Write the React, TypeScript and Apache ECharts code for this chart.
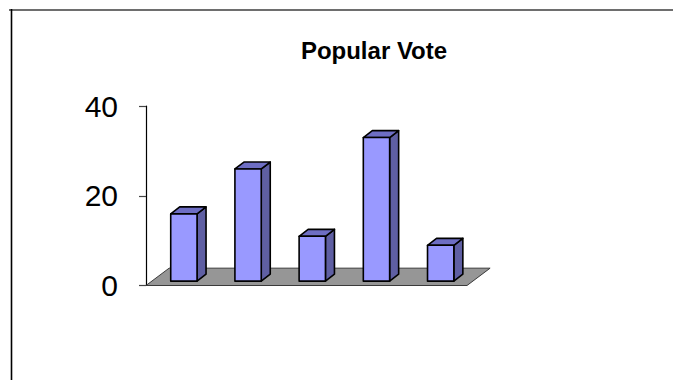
import React, { useEffect, useRef } from "react";
import * as echarts from "echarts";

// Popular vote share per candidate (percent)
const categories = ["A", "B", "C", "D", "E"];
const votes = [15, 25, 10, 32, 8];
const yTicks = { min: 0, max: 40, interval: 20 };
const titleText = "Popular Vote";

const FONT = "'Liberation Sans', Arial, Helvetica, sans-serif";

// Oblique depth of the floor, as a fraction of one category band
const DEPTH_X = 0.36;
const DEPTH_Y = -0.27;

export default function App() {
  const ref = useRef<HTMLDivElement>(null);

  useEffect(() => {
    if (!ref.current) return;
    const chart = echarts.init(ref.current, undefined, { renderer: "svg" });

    const floorItem = (params: any, api: any) => {
      const band = api.size([1, 0])[0];
      const left = api.coord([0, 0]);
      const right = api.coord([categories.length - 1, 0]);
      const dx = band * DEPTH_X;
      const dy = band * DEPTH_Y;
      const x0 = left[0] - band / 2;
      const x1 = right[0] + band / 2;
      const y = left[1];
      return {
        type: "polygon",
        shape: {
          points: [
            [x0, y],
            [x1, y],
            [x1 + dx, y + dy],
            [x0 + dx, y + dy],
          ],
        },
        style: { fill: "#969696", stroke: "#3a3a3a", lineWidth: 1 },
      };
    };

    const barItem = (params: any, api: any) => {
      const idx = api.value(0);
      const val = api.value(1);
      const band = api.size([1, 0])[0];
      const base = api.coord([idx, 0]);
      const top = api.coord([idx, val]);
      const dx = band * DEPTH_X;
      const dy = band * DEPTH_Y;
      const w = band * 0.41;
      // front face sits a quarter of the way into the floor depth
      const ox = dx * 0.25;
      const oy = dy * 0.25;
      const bx = dx * 0.39;
      const by = dy * 0.4;
      const x0 = base[0] + ox - w / 2;
      const x1 = x0 + w;
      const yb = base[1] + oy;
      const yt = top[1] + oy;
      const stroke = { stroke: "#000", lineWidth: 1.6, lineJoin: "round" };
      return {
        type: "group",
        children: [
          {
            type: "polygon",
            shape: {
              points: [
                [x1, yt],
                [x1 + bx, yt + by],
                [x1 + bx, yb + by],
                [x1, yb],
              ],
            },
            style: { fill: "#5f5fa3", ...stroke },
          },
          {
            type: "polygon",
            shape: {
              points: [
                [x0, yt],
                [x1, yt],
                [x1 + bx, yt + by],
                [x0 + bx, yt + by],
              ],
            },
            style: { fill: "#6e6ec4", ...stroke },
          },
          {
            type: "rect",
            shape: { x: x0, y: yt, width: w, height: yb - yt },
            style: { fill: "#9999ff", ...stroke },
          },
        ],
      };
    };

    chart.setOption({
      animation: false,
      backgroundColor: "#ffffff",
      title: {
        text: titleText,
        left: 369,
        top: 33,
        textAlign: "center",
        textStyle: {
          fontFamily: FONT,
          fontWeight: "bold",
          fontSize: 24,
          color: "#000",
        },
      },
      grid: { left: 146, top: 106, right: 206, bottom: 94.5 },
      xAxis: {
        type: "category",
        data: categories,
        axisLine: { show: false },
        axisTick: { show: false },
        axisLabel: { show: false },
        splitLine: { show: false },
      },
      yAxis: {
        type: "value",
        min: yTicks.min,
        max: yTicks.max,
        interval: yTicks.interval,
        axisLine: { show: true, lineStyle: { color: "#000", width: 1.2 } },
        axisTick: { show: true, length: 7, lineStyle: { color: "#444", width: 1.2 } },
        axisLabel: {
          margin: 28,
          fontFamily: FONT,
          fontSize: 30,
          color: "#000",
        },
        splitLine: { show: false },
      },
      graphic: [
        {
          type: "line",
          shape: { x1: 9, y1: 10, x2: 673, y2: 10 },
          style: { stroke: "#6e6e6e", lineWidth: 2 },
        },
        {
          type: "line",
          shape: { x1: 11.5, y1: 9, x2: 11.5, y2: 380 },
          style: { stroke: "#000", lineWidth: 1.6 },
        },
      ],
      series: [
        {
          type: "custom",
          renderItem: floorItem,
          data: [[0, 0]],
          z: 1,
          silent: true,
        },
        {
          type: "custom",
          renderItem: barItem,
          data: votes.map((v, i) => [i, v]),
          encode: { x: 0, y: 1 },
          z: 2,
        },
      ],
    });

    return () => chart.dispose();
  }, []);

  return (
    <div
      ref={ref}
      style={{ position: "absolute", left: 0, top: 0, width: 673, height: 380 }}
    />
  );
}
